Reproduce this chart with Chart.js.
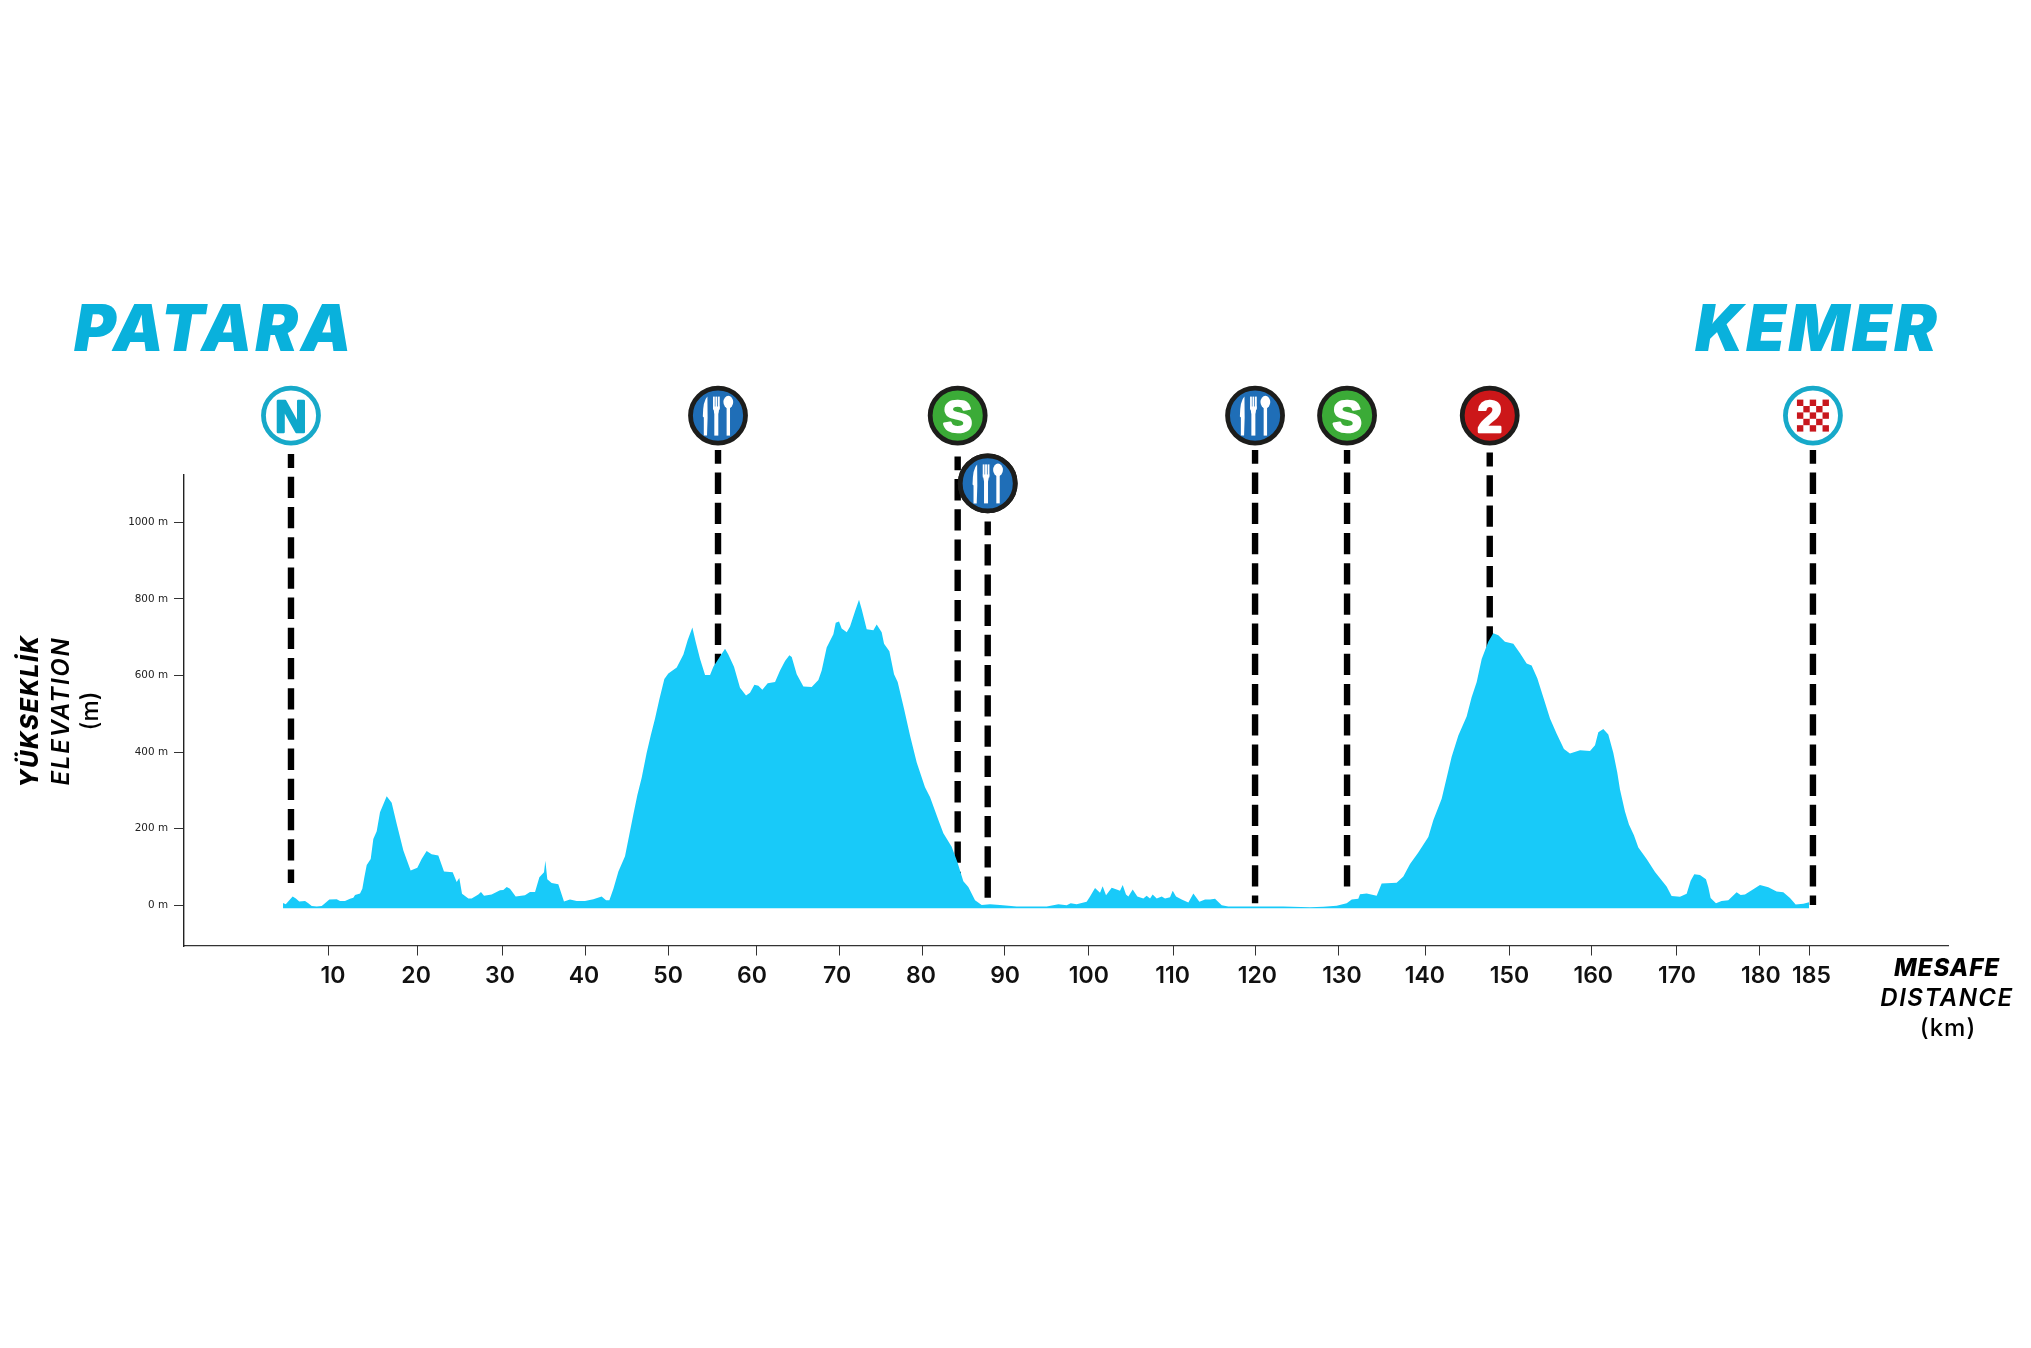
<!DOCTYPE html>
<html lang="en">
  <head>
    <meta charset="UTF-8" />
    <title>Patara - Kemer</title>
    <style>
      body {
        margin: 0;
        background-color: #fff;
      }
      canvas {
        display: block;
      }
    </style>
  </head>
  <body>
    <canvas id="profileChart" width="2031" height="1348"></canvas>
    <script src="https://cdn.jsdelivr.net/npm/chart.js"></script>
    <script>
      // elevation profile
      const distanceKm = [
        4.68, 5.0, 5.5, 5.82, 6.2, 6.6, 7.28, 7.67, 8.07, 8.66, 9.25, 9.64, 10.15, 11.02, 11.41, 12.0, 12.6, 12.99,
        13.19, 13.78, 14.05, 14.29, 14.57, 15.04, 15.35, 15.75, 16.14, 16.93, 17.52, 18.11, 18.9, 19.76, 20.55, 21.06,
        21.65, 22.24, 23.03, 23.7, 24.73, 25.2, 25.51, 25.83, 26.58, 26.97, 27.76, 28.07, 28.43, 29.33, 30.32, 30.71,
        31.11, 31.5, 32.17, 33.27, 33.86, 34.46, 34.97, 35.52, 35.68, 35.91, 36.42, 37.21, 37.88, 38.59, 39.38, 40.36,
        41.35, 42.33, 42.85, 43.24, 43.72, 44.31, 45.09, 45.68, 46.08, 46.55, 47.06, 47.65, 48.13, 48.64, 49.15, 49.74,
        50.21, 51.2, 51.99, 52.5, 53.05, 53.44, 53.96, 54.55, 55.14, 55.53, 56.12, 56.91, 57.3, 57.97, 58.68, 59.39,
        59.86, 60.38, 60.85, 61.32, 61.95, 62.82, 63.41, 64.0, 64.51, 64.79, 65.38, 66.17, 67.15, 67.94, 68.33, 68.92,
        69.71, 69.99, 70.38, 70.69, 71.29, 71.68, 72.27, 72.74, 73.06, 73.65, 74.44, 74.83, 75.42, 75.7, 76.33, 76.88,
        77.31, 78.06, 78.77, 79.56, 80.54, 81.13, 82.12, 82.71, 83.69, 84.36, 85.07, 85.66, 86.45, 87.24, 88.22, 89.4,
        91.37, 94.92, 96.3, 97.28, 97.75, 98.46, 99.64, 100.04, 100.63, 101.22, 101.53, 101.93, 102.6, 103.19, 103.58,
        103.9, 104.29, 104.57, 105.08, 105.63, 106.34, 106.73, 107.13, 107.44, 107.92, 108.51, 108.9, 109.49, 109.81,
        110.2, 110.87, 111.66, 112.25, 112.96, 113.63, 114.22, 114.81, 115.6, 116.38, 119.53, 122.88, 126.03, 127.61,
        129.18, 130.37, 130.96, 131.74, 131.94, 132.73, 133.91, 134.5, 136.27, 137.06, 137.85, 138.83, 140.01, 140.61,
        141.59, 142.18, 142.77, 143.56, 144.54, 145.13, 145.73, 146.32, 147.1, 147.69, 148.29, 149.07, 150.06, 150.85,
        151.63, 152.22, 152.89, 153.6, 154.39, 155.18, 156.04, 156.75, 157.94, 159.12, 159.71, 160.1, 160.69, 161.28,
        161.87, 162.34, 162.66, 163.25, 163.72, 164.31, 164.83, 165.81, 166.8, 168.17, 168.76, 169.75, 170.54, 171.01,
        171.44, 172.11, 172.82, 173.1, 173.37, 174.0, 174.67, 175.46, 176.44, 176.92, 177.43, 178.41, 179.2, 180.19,
        181.17, 181.96, 182.75, 183.42, 184.33, 185.0,
      ];
      const elevationM = [
        6, 3, 15, 23, 18, 10, 11, 5, -2, -3, -2, 5, 15, 16, 11, 11, 17, 20,
        27, 31, 43, 73, 105, 121, 173, 193, 243, 285, 268, 213, 143, 91, 98, 121,
        142, 133, 130, 88, 86, 61, 71, 30, 18, 18, 28, 35, 25, 28, 39, 40,
        48, 43, 23, 26, 35, 35, 73, 86, 116, 68, 58, 55, 10, 15, 11, 11,
        16, 23, 13, 13, 43, 88, 128, 193, 238, 288, 333, 398, 443, 488, 538, 591,
        605, 621, 655, 693, 725, 688, 643, 601, 601, 623, 643, 670, 655, 623, 568, 548,
        555, 576, 573, 563, 580, 583, 613, 638, 653, 648, 603, 571, 570, 588, 613, 673,
        708, 738, 741, 723, 713, 728, 768, 798, 773, 721, 718, 733, 713, 683, 663, 603,
        583, 513, 443, 373, 308, 283, 223, 188, 153, 113, 63, 48, 13, 1, 3, 1,
        -3, -3, 3, 0, 5, 3, 9, 23, 45, 33, 50, 26, 46, 41, 38,
        53, 28, 23, 41, 23, 18, 25, 18, 28, 18, 23, 18, 21, 38,
        23, 15, 7, 31, 9, 15, 15, 17, 0, -3, -3, -3, -5, -4,
        -1, 5, 15, 17, 29, 31, 25, 57, 59, 75, 108, 138, 178, 223,
        278, 333, 388, 443, 493, 543, 583, 643, 688, 710, 705, 688, 683, 658,
        631, 626, 593, 543, 488, 448, 408, 396, 405, 403, 418, 452, 460, 446,
        398, 347, 302, 245, 211, 183, 151, 121, 87, 49, 24, 22, 30, 64,
        81, 79, 68, 47, 19, 5, 11, 13, 34, 27, 28, 42, 53, 47,
        36, 34, 19, 2, 4, 8,
      ];
      const baseElevation = -8;

      // x axis: the tick marks are not quite under their labels in the original
      const tickLabels = ["10", "20", "30", "40", "50", "60", "70", "80", "90", "100", "110", "120", "130", "140", "150", "160", "170", "180", "185"];
      const tickMarkKm = [10, 20.5, 30.55, 40.36, 50.16, 60.56, 70.37, 80.18, 89.87, 99.8, 109.84, 119.54, 129.35, 139.63, 149.56, 159.25, 169.29, 179.1, 185];
      const tickLabelKm = [10.59, 20.4, 30.32, 40.25, 50.18, 60.1, 70.15, 80.07, 90.0, 99.9, 109.8, 119.8, 129.8, 139.6, 149.6, 159.5, 169.4, 179.3, 185.3];
      const elevationTicks = [0, 200, 400, 600, 800, 1000];

      // stops along the route: N start, feed zones, sprints, climb, finish
      const stopTypes = ["start", "feed", "sprint", "feed", "feed", "sprint", "climb", "finish"];
      const stopKm = [5.62, 56.08, 84.4, 87.95, 119.54, 130.41, 147.27, 185.46];
      const stopLineTop = [1178, 1189, 1172, 1002, 1189, 1189, 1182, 1189];
      const stopLineBottom = [58, 0, 0, 5, 5, 27, 0, 1];
      const stopIconElevation = [1278.6, 1278.6, 1278.6, 1101.6, 1278.6, 1278.6, 1278.6, 1278.6];

      const CYAN_RING = "#17a9c9";
      const iconFill = { start: "#fff", feed: "#1f6eb7", sprint: "#3bab37", climb: "#cc1719", finish: "#fff" };
      const iconRing = { start: CYAN_RING, feed: "#1d1d1b", sprint: "#1d1d1b", climb: "#1d1d1b", finish: CYAN_RING };
      const iconLetter = { start: "N", sprint: "S", climb: "2" };

      const profile = distanceKm.map((km, i) => ({ x: km, y: elevationM[i] }));

      const stopLines = stopKm.map((km, i) => ({
        type: "line",
        data: [
          { x: km, y: stopLineTop[i] },
          { x: km, y: stopLineBottom[i] },
        ],
        borderColor: "#000",
        borderWidth: 6.4,
        borderDash: [21.3, 8.9],
        borderDashOffset: 7.5,
        pointRadius: 0,
        fill: false,
        clip: false,
        order: 3,
      }));

      function drawCutlery(ctx, cx, cy) {
        ctx.fillStyle = "#fff";
        // knife
        ctx.beginPath();
        ctx.moveTo(cx - 14.2, cy + 20);
        ctx.lineTo(cx - 14.2, cy + 2);
        ctx.lineTo(cx - 15.2, cy + 1);
        ctx.quadraticCurveTo(cx - 15, cy - 15, cx - 10.6, cy - 19);
        ctx.lineTo(cx - 10.4, cy + 2);
        ctx.lineTo(cx - 11, cy + 20);
        ctx.closePath();
        ctx.fill();
        // fork
        ctx.fillRect(cx - 3.7, cy - 5, 4, 25);
        ctx.fillRect(cx - 5, cy - 19, 1.8, 13);
        ctx.fillRect(cx - 2.6, cy - 19, 1.8, 13);
        ctx.fillRect(cx - 0.1, cy - 19, 1.8, 13);
        ctx.beginPath();
        ctx.moveTo(cx - 5, cy - 9);
        ctx.lineTo(cx + 1.7, cy - 9);
        ctx.lineTo(cx + 0.3, cy - 2);
        ctx.lineTo(cx - 3.7, cy - 2);
        ctx.closePath();
        ctx.fill();
        // spoon
        ctx.beginPath();
        ctx.ellipse(cx + 10.3, cy - 13.5, 4.9, 6.3, 0, 0, Math.PI * 2);
        ctx.fill();
        ctx.fillRect(cx + 8.6, cy - 10, 3.4, 30);
      }

      function drawChequer(ctx, cx, cy) {
        const cell = 6.4;
        ctx.fillStyle = "#c8171d";
        for (let r = 0; r < 5; r++) {
          for (let c = 0; c < 5; c++) {
            if ((r + c) % 2 === 0) {
              ctx.fillRect(cx - 2.5 * cell + c * cell, cy - 2.5 * cell + r * cell, cell, cell);
            }
          }
        }
      }

      function putText(ctx, text, x, y, font, align, spacing) {
        ctx.font = font;
        ctx.textAlign = align;
        ctx.letterSpacing = (spacing || 0) + "px";
        ctx.fillText(text, x, y);
        ctx.letterSpacing = "0px";
      }

      // tick marks, icon contents and the titles around the plot
      const extrasPlugin = {
        id: "extras",
        afterDraw(chart) {
          const { ctx, scales } = chart;
          ctx.save();

          ctx.strokeStyle = "#333";
          ctx.lineWidth = 1;
          tickMarkKm.forEach((km) => {
            const x = Math.round(scales.x.getPixelForValue(km)) + 0.5;
            ctx.beginPath();
            ctx.moveTo(x, scales.x.top);
            ctx.lineTo(x, scales.x.top + 9.5);
            ctx.stroke();
          });

          // icons sit above the plot area, so the controller skips them:
          // draw the point elements here without the area check
          const icons = chart.getDatasetMeta(chart.data.datasets.length - 1).data;
          icons.forEach((pt, i) => {
            pt.draw(ctx);
            const type = stopTypes[i];
            if (type === "feed") {
              drawCutlery(ctx, pt.x, pt.y);
            } else if (type === "finish") {
              drawChequer(ctx, pt.x, pt.y);
            } else {
              ctx.fillStyle = type === "start" ? "#0fa8cb" : "#fff";
              ctx.strokeStyle = ctx.fillStyle;
              ctx.lineWidth = 2.4;
              ctx.lineJoin = "round";
              ctx.textBaseline = "alphabetic";
              putText(ctx, iconLetter[type], pt.x, pt.y + 16, "bold 44px 'Liberation Sans'", "center");
              ctx.strokeText(iconLetter[type], pt.x, pt.y + 16);
            }
          });

          ctx.textBaseline = "alphabetic";
          ctx.fillStyle = "#09b1dc";
          putText(ctx, "PATARA", 74, 351, "italic 900 64px Inter", "left", 2.8);
          putText(ctx, "KEMER", 1695, 351, "italic 900 64px Inter", "left", 2.4);

          ctx.fillStyle = "#000";
          putText(ctx, "MESAFE", 1947, 976, "italic 800 24px Inter", "center", 1);
          putText(ctx, "DISTANCE", 1947, 1006, "italic 600 24px Inter", "center", 1.5);
          putText(ctx, "(km)", 1948, 1036, "500 24px Inter", "center", 1);

          ctx.translate(0, 711);
          ctx.rotate(-Math.PI / 2);
          putText(ctx, "YÜKSEKLİK", 0, 38, "italic 800 24px Inter", "center", 1.5);
          putText(ctx, "ELEVATION", 0, 69, "italic 600 24px Inter", "center", 1.8);
          putText(ctx, "(m)", 0, 98, "500 24px Inter", "center", 0);

          ctx.restore();
        },
      };

      new Chart(document.getElementById("profileChart"), {
        type: "line",
        data: {
          datasets: [
            {
              data: profile,
              backgroundColor: "#18caf9",
              borderWidth: 0,
              pointRadius: 0,
              tension: 0,
              fill: { value: baseElevation },
              order: 2,
            },
            ...stopLines,
            {
              data: stopKm.map((km, i) => ({ x: km, y: stopIconElevation[i] })),
              showLine: false,
              pointRadius: 27.5,
              pointBorderWidth: 4.8,
              pointBackgroundColor: stopTypes.map((t) => iconFill[t]),
              pointBorderColor: stopTypes.map((t) => iconRing[t]),
              clip: false,
              order: 1,
            },
          ],
        },
        options: {
          responsive: false,
          animation: false,
          layout: { padding: { top: 474.5, right: 83, left: 0, bottom: 0 } },
          plugins: { legend: { display: false }, tooltip: { enabled: false } },
          scales: {
            x: {
              type: "linear",
              min: -7.08,
              max: 201.42,
              afterFit(scale) {
                scale.height = 402;
              },
              afterBuildTicks(scale) {
                scale.ticks = tickLabelKm.map((v) => ({ value: v }));
              },
              grid: { display: false },
              border: { color: "#333", width: 1.2 },
              ticks: {
                autoSkip: false,
                maxRotation: 0,
                padding: 8,
                color: "#111",
                font: { family: "Inter", size: 23, weight: "600" },
                callback: (v, i) => tickLabels[i],
              },
            },
            y: {
              min: -106.3,
              max: 1124.8,
              afterFit(scale) {
                scale.width = 183.5;
              },
              afterBuildTicks(scale) {
                scale.ticks = elevationTicks.map((v) => ({ value: v }));
              },
              grid: { drawOnChartArea: false, tickLength: 9.5, tickColor: "#333" },
              border: { color: "#222", width: 1.4 },
              ticks: {
                padding: 6,
                color: "#222",
                font: { family: "DejaVu Sans", size: 10.4 },
                callback: (v) => v + " m",
              },
            },
          },
        },
        plugins: [extrasPlugin],
      });
    </script>
  </body>
</html>
